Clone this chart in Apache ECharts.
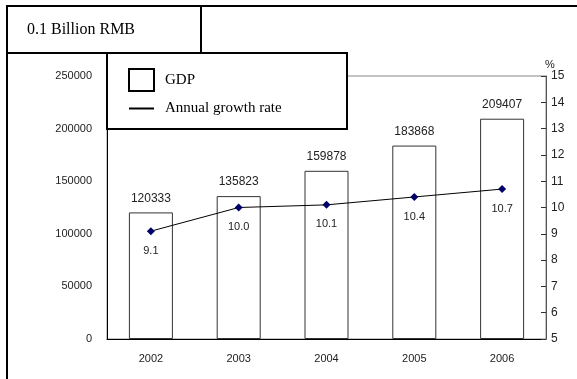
<!DOCTYPE html>
<html>
<head>
<meta charset="utf-8">
<script src="https://cdn.jsdelivr.net/npm/echarts@6/dist/echarts.min.js"></script>
<style>
  html, body { margin: 0; padding: 0; background: #fff; }
  #chart { width: 577px; height: 379px; }
</style>
</head>
<body>
<div id="chart"></div>
<script>
// chart data
var years = ['2002', '2003', '2004', '2005', '2006'];
var gdp = [120333, 135823, 159878, 183868, 209407];
var growth = [9.1, 10.0, 10.1, 10.4, 10.7];

var chart = echarts.init(document.getElementById('chart'));

var option = {
    animation: false,
    title: {
        text: '0.1 Billion RMB',
        left: 27,
        top: 22,
        padding: 0,
        textStyle: {
            fontFamily: 'Liberation Serif',
            fontSize: 16,
            fontWeight: 'normal',
            color: '#000'
        }
    },
    legend: {
        orient: 'vertical',
        left: 128,
        top: 68,
        padding: 0,
        itemWidth: 25,
        itemHeight: 22,
        itemGap: 9,
        z: 20,
        textStyle: {
            fontFamily: 'Liberation Serif',
            fontSize: 15,
            color: '#000',
            padding: [0, 0, 0, 6]
        },
        data: [
            { name: 'GDP', icon: 'rect',
              itemStyle: { color: '#fff', borderColor: '#000', borderWidth: 2 } },
            { name: 'Annual growth rate', icon: 'path://M0,0L25,0L25,2L0,2Z',
              itemStyle: { color: '#000', borderWidth: 0 } }
        ]
    },
    graphic: [
        // outer frame: top and left edges
        { type: 'line', z: 10, shape: { x1: 7, y1: 6, x2: 577, y2: 6 },
          style: { stroke: '#000', lineWidth: 2 } },
        { type: 'line', z: 10, shape: { x1: 7, y1: 6, x2: 7, y2: 379 },
          style: { stroke: '#000', lineWidth: 2 } },
        // unit box
        { type: 'rect', z: 10, shape: { x: 7, y: 6, width: 194, height: 47 },
          style: { fill: 'transparent', stroke: '#000', lineWidth: 2 } },
        // legend box
        { type: 'rect', z: 10, shape: { x: 107, y: 53, width: 240, height: 76 },
          style: { fill: '#fff', stroke: '#000', lineWidth: 2 } }
    ],
    grid: {
        left: 107,
        right: 31,
        top: 76,
        bottom: 40,
        show: true,
        borderColor: '#888',
        borderWidth: 1
    },
    xAxis: {
        type: 'category',
        data: years,
        axisLine: { lineStyle: { color: '#000', width: 1 } },
        axisTick: { inside: true, length: 4, lineStyle: { color: '#000' } },
        axisLabel: { margin: 14, fontSize: 11, color: '#222', fontFamily: 'Liberation Sans' }
    },
    yAxis: [
        {
            type: 'value',
            min: 0,
            max: 250000,
            interval: 50000,
            axisLine: { show: true, lineStyle: { color: '#000', width: 1 } },
            axisTick: { show: false },
            splitLine: { show: false },
            axisLabel: {
                margin: 15, fontSize: 11, color: '#222', fontFamily: 'Liberation Sans',
                formatter: function (v) { return String(v); }
            }
        },
        {
            type: 'value',
            position: 'right',
            min: 5,
            max: 15,
            interval: 1,
            name: '%',
            nameLocation: 'end',
            nameGap: 4,
            nameTextStyle: { fontSize: 11, color: '#222', align: 'left', padding: [0, 0, 0, -1] },
            axisLine: { show: true, lineStyle: { color: '#555', width: 1 } },
            axisTick: { show: true, inside: true, length: 5, lineStyle: { color: '#333' } },
            splitLine: { show: false },
            axisLabel: { margin: 5, fontSize: 12, color: '#222', fontFamily: 'Liberation Sans' }
        }
    ],
    series: [
        {
            name: 'GDP',
            type: 'bar',
            data: gdp,
            barWidth: 44,
            itemStyle: { color: '#fff', borderColor: '#333', borderWidth: 1 },
            label: {
                show: true,
                position: 'top',
                distance: 8,
                fontSize: 12,
                color: '#222',
                fontFamily: 'Liberation Sans'
            }
        },
        {
            name: 'Annual growth rate',
            type: 'line',
            yAxisIndex: 1,
            data: growth,
            symbol: 'diamond',
            symbolSize: 8,
            itemStyle: { color: '#000066' },
            lineStyle: { color: '#000', width: 1 },
            label: {
                show: true,
                position: 'bottom',
                distance: 10,
                fontSize: 11,
                color: '#222',
                fontFamily: 'Liberation Sans',
                formatter: function (p) { return p.value.toFixed(1); }
            }
        }
    ]
};

chart.setOption(option, true);
</script>
</body>
</html>
